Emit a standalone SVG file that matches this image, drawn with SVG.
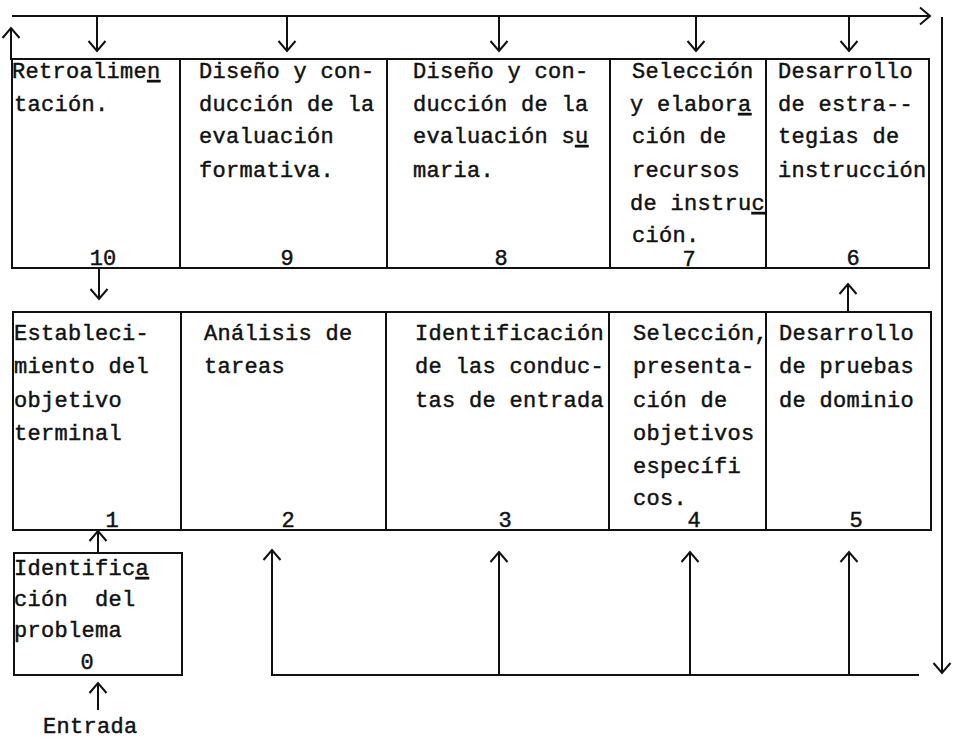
<svg xmlns="http://www.w3.org/2000/svg" width="956" height="739" viewBox="0 0 956 739">
  <style>
    .box { fill: #fff; stroke: #111; stroke-width: 2; }
    .t { font-family: "Liberation Mono", "DejaVu Sans Mono", monospace; font-size: 22px; letter-spacing: 0.3px; fill: #111; stroke: #111; stroke-width: 0.45; }
    .n { font-family: "Liberation Mono", "DejaVu Sans Mono", monospace; font-size: 22px; fill: #111; stroke: #111; stroke-width: 0.45; text-anchor: middle; }
    .u { text-decoration: underline; }
    .wire { fill: none; stroke: #111; stroke-width: 2; }
    .arr { fill: none; stroke: #111; stroke-width: 2; marker-end: url(#head); }
  </style>
  <defs>
    <marker id="head" markerUnits="userSpaceOnUse" markerWidth="24" markerHeight="24" viewBox="-12 -12 24 24" refX="0" refY="0" orient="auto" overflow="visible">
      <path d="M -10 -8.5 L 0 0 L -10 8.5" fill="none" stroke="#111" stroke-width="2"/>
    </marker>
  </defs>
  <rect width="956" height="739" fill="#fff"/>

  <!-- connectors -->
  <g id="connectors">
    <!-- feedback bus along the top -->
    <path class="arr" d="M 12 16 H 930"/>
    <path class="arr" d="M 97 16 V 51"/>
    <path class="arr" d="M 287 16 V 51"/>
    <path class="arr" d="M 499 16 V 51"/>
    <path class="arr" d="M 696 16 V 51"/>
    <path class="arr" d="M 849 16 V 51"/>
    <!-- left riser -->
    <path class="arr" d="M 11 60 V 28"/>
    <!-- right descender -->
    <path class="arr" d="M 942 17 V 673"/>
    <!-- between rows -->
    <path class="arr" d="M 99 268 V 299"/>
    <path class="arr" d="M 848 312 V 284"/>
    <!-- problem into objective -->
    <path class="arr" d="M 98 553 V 531"/>
    <path class="arr" d="M 98 710 V 683"/>
    <!-- bottom feed bus -->
    <path class="wire" d="M 271 675 H 919"/>
    <path class="arr" d="M 272 675 V 550"/>
    <path class="arr" d="M 499 675 V 552"/>
    <path class="arr" d="M 690 675 V 552"/>
    <path class="arr" d="M 849 675 V 552"/>
  </g>

  <!-- top row -->
  <g id="n10">
    <rect class="box" x="12" y="59" width="168" height="209"/>
    <text class="t" x="12" y="78">Retroalime<tspan class="u">n</tspan></text>
    <text class="t" x="14" y="111">tación.</text>
    <text class="n" x="103" y="265">10</text>
  </g>
  <g id="n9">
    <rect class="box" x="180" y="59" width="207" height="209"/>
    <text class="t" x="199" y="78">Diseño y con-</text>
    <text class="t" x="199" y="111">ducción de la</text>
    <text class="t" x="199" y="143">evaluación</text>
    <text class="t" x="199" y="177">formativa.</text>
    <text class="n" x="287" y="265">9</text>
  </g>
  <g id="n8">
    <rect class="box" x="387" y="59" width="223" height="209"/>
    <text class="t" x="413" y="78">Diseño y con-</text>
    <text class="t" x="413" y="111">ducción de la</text>
    <text class="t" x="413" y="143">evaluación s<tspan class="u">u</tspan></text>
    <text class="t" x="413" y="177">maria.</text>
    <text class="n" x="501" y="265">8</text>
  </g>
  <g id="n7">
    <rect class="box" x="610" y="59" width="156" height="209"/>
    <text class="t" x="632" y="78">Selección</text>
    <text class="t" x="630" y="111">y elabor<tspan class="u">a</tspan></text>
    <text class="t" x="632" y="143">ción de</text>
    <text class="t" x="632" y="177">recursos</text>
    <text class="t" x="630" y="210">de instru<tspan class="u">c</tspan></text>
    <text class="t" x="632" y="242">ción.</text>
    <text class="n" x="689" y="266">7</text>
  </g>
  <g id="n6">
    <rect class="box" x="766" y="59" width="163" height="209"/>
    <text class="t" x="778" y="78">Desarrollo</text>
    <text class="t" x="778" y="111">de estra--</text>
    <text class="t" x="778" y="143">tegias de</text>
    <text class="t" x="778" y="177">instrucción</text>
    <text class="n" x="853" y="265">6</text>
  </g>

  <!-- bottom row -->
  <g id="n1">
    <rect class="box" x="13" y="312" width="168" height="218"/>
    <text class="t" x="14" y="340">Estableci-</text>
    <text class="t" x="14" y="373">miento del</text>
    <text class="t" x="14" y="407">objetivo</text>
    <text class="t" x="14" y="440">terminal</text>
    <text class="n" x="112" y="527">1</text>
  </g>
  <g id="n2">
    <rect class="box" x="181" y="312" width="205" height="218"/>
    <text class="t" x="204" y="340">Análisis de</text>
    <text class="t" x="204" y="373">tareas</text>
    <text class="n" x="288" y="527">2</text>
  </g>
  <g id="n3">
    <rect class="box" x="386" y="312" width="223" height="218"/>
    <text class="t" x="415" y="340">Identificación</text>
    <text class="t" x="415" y="373">de las conduc-</text>
    <text class="t" x="415" y="407">tas de entrada</text>
    <text class="n" x="505" y="527">3</text>
  </g>
  <g id="n4">
    <rect class="box" x="609" y="312" width="157" height="218"/>
    <text class="t" x="633" y="340">Selección,</text>
    <text class="t" x="633" y="373">presenta-</text>
    <text class="t" x="633" y="407">ción de</text>
    <text class="t" x="633" y="440">objetivos</text>
    <text class="t" x="633" y="473">específi</text>
    <text class="t" x="633" y="505">cos.</text>
    <text class="n" x="694" y="527">4</text>
  </g>
  <g id="n5">
    <rect class="box" x="766" y="312" width="165" height="218"/>
    <text class="t" x="779" y="340">Desarrollo</text>
    <text class="t" x="779" y="373">de pruebas</text>
    <text class="t" x="779" y="407">de dominio</text>
    <text class="n" x="856" y="527">5</text>
  </g>

  <!-- entry step -->
  <g id="n0">
    <rect class="box" x="14" y="553" width="168" height="122"/>
    <text class="t" x="14" y="575">Identific<tspan class="u">a</tspan></text>
    <text class="t" x="14" y="606">ción&#160; del</text>
    <text class="t" x="14" y="637">problema</text>
    <text class="n" x="87" y="669">0</text>
  </g>
  <g id="entrada">
    <text class="t" x="43" y="733">Entrada</text>
  </g>
</svg>
